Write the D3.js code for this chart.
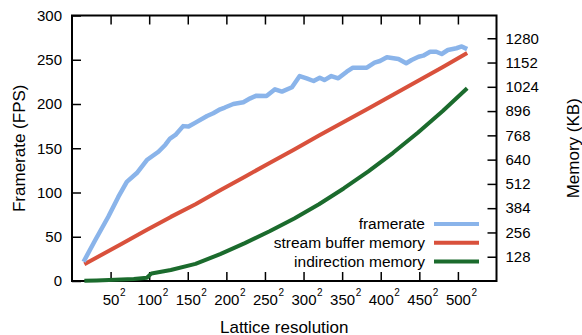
<!DOCTYPE html>
<html>
<head>
<meta charset="utf-8">
<script src="https://cdn.jsdelivr.net/npm/d3@7"></script>
<style>
  body { margin: 0; background: #fff; }
  svg { display: block; font-family: "Liberation Sans", Arial, sans-serif; }
  .tick line { stroke: #000; stroke-width: 1.5; }
  .domain { display: none; }
</style>
</head>
<body>
<svg id="svg" width="582" height="335"></svg>
<script>
// framerate (resolution, FPS)
let fpsRes = [15, 30, 47, 60, 71, 84, 97, 112, 121, 127, 134, 144, 151, 160, 175, 183, 192, 198, 209, 222,
              231, 239, 252, 263, 272, 285, 295, 304, 313, 321, 327, 336, 345, 356, 364, 382, 392, 399, 408,
              423, 433, 440, 449, 455, 464, 472, 479, 487, 498, 505, 512];
let fpsVal = [21.8, 46, 72.6, 95, 112, 122, 136.7, 146, 154, 161, 165, 175, 174.5, 179, 186.4, 189.5, 194, 196, 200, 202,
              206.4, 209.4, 209, 216.6, 214, 219, 231.6, 229, 226, 229.7, 227, 231.6, 229, 236.5, 241, 241, 246.7, 248.6, 252.8,
              250.8, 246, 249.7, 253.4, 254.6, 259, 259, 256.5, 261, 263, 265, 262];

// stream buffer memory (KB)
let streamRes = [16, 32, 64, 96, 128, 160, 192, 224, 256, 288, 320, 352, 384, 416, 448, 480, 512];
let streamVal = [88, 124, 195, 267, 338, 405, 478, 550, 622, 694, 767, 838, 910, 982, 1054, 1127, 1202];

// indirection memory (KB)
let indirRes = [16, 32, 48, 64, 80, 97, 103, 128, 160, 192, 224, 256, 288, 320, 352, 384, 416, 448, 480, 512];
let indirVal = [1, 3, 5, 8, 11, 17, 40, 58, 90, 142, 200, 262, 330, 405, 488, 578, 676, 782, 895, 1016];

let xTicks = [50, 100, 150, 200, 250, 300, 350, 400, 450, 500];
let fpsTicks = [0, 50, 100, 150, 200, 250, 300];
let memTicks = [128, 256, 384, 512, 640, 768, 896, 1024, 1152, 1280];

let seriesNames = ["framerate", "stream buffer memory", "indirection memory"];
let seriesColors = ["#8ab4ea", "#d9513c", "#1b6b2d"];

let svg = d3.select("#svg");

const plotLeft = 72, plotRight = 496.5, plotTop = 15.5, plotBottom = 281;

let xScale = d3.scaleLinear().domain([0, 550]).range([plotLeft, plotRight]);
let yFps = d3.scaleLinear().domain([0, 300]).range([plotBottom, plotTop]);
let yMem = d3.scaleLinear().domain([0, 1400]).range([plotBottom, plotTop]);

// axes, ticks pointing inward
let xAxis = svg.append("g")
    .attr("transform", `translate(0,${plotBottom})`)
    .call(d3.axisBottom(xScale).tickValues(xTicks).tickSizeInner(-9).tickSizeOuter(0).tickFormat(""));

// number centred on the tick, small "2" hanging to the right
xAxis.selectAll(".tick").each(function(d) {
    let g = d3.select(this);
    g.select("text").remove();
    let label = g.append("text")
        .attr("y", 23.5)
        .attr("text-anchor", "start")
        .attr("font-size", 15)
        .attr("fill", "#000");
    let num = label.append("tspan").text(d);
    let w = num.node().getComputedTextLength();
    label.attr("x", -w / 2);
    label.append("tspan")
        .attr("dx", 0.5)
        .attr("dy", -9)
        .attr("font-size", 10)
        .text("2");
});

svg.append("g")
    .attr("transform", `translate(0,${plotTop})`)
    .call(d3.axisTop(xScale).tickValues(xTicks).tickSizeInner(-9).tickSizeOuter(0).tickFormat(""));

svg.append("g")
    .attr("transform", `translate(${plotLeft},0)`)
    .call(d3.axisLeft(yFps).tickValues(fpsTicks).tickSizeInner(-9).tickSizeOuter(0).tickPadding(10))
    .selectAll(".tick text")
    .attr("font-size", 15)
    .attr("fill", "#000");

svg.append("g")
    .attr("transform", `translate(${plotRight},0)`)
    .call(d3.axisRight(yMem).tickValues(memTicks).tickSizeInner(-9).tickSizeOuter(0).tickPadding(9).tickFormat(d3.format("d")))
    .selectAll(".tick text")
    .attr("font-size", 15)
    .attr("fill", "#000");

svg.selectAll(".tick text").attr("font-family", "Liberation Sans, Arial, sans-serif");

// frame
svg.append("rect")
    .attr("x", plotLeft)
    .attr("y", plotTop)
    .attr("width", plotRight - plotLeft)
    .attr("height", plotBottom - plotTop)
    .attr("fill", "none")
    .attr("stroke", "#000")
    .attr("stroke-width", 2);

// lines
let fpsLine = d3.line().x((d, i) => xScale(fpsRes[i])).y(d => yFps(d));
let streamLine = d3.line().x((d, i) => xScale(streamRes[i])).y(d => yMem(d));
let indirLine = d3.line().x((d, i) => xScale(indirRes[i])).y(d => yMem(d));

svg.append("path").datum(indirVal)
    .attr("d", indirLine)
    .attr("fill", "none")
    .attr("stroke", seriesColors[2])
    .attr("stroke-width", 4)
    .attr("stroke-linejoin", "round");

svg.append("path").datum(streamVal)
    .attr("d", streamLine)
    .attr("fill", "none")
    .attr("stroke", seriesColors[1])
    .attr("stroke-width", 4)
    .attr("stroke-linejoin", "round");

svg.append("path").datum(fpsVal)
    .attr("d", fpsLine)
    .attr("fill", "none")
    .attr("stroke", seriesColors[0])
    .attr("stroke-width", 4.5)
    .attr("stroke-linejoin", "round");

// legend
let legend = svg.append("g");
seriesNames.forEach((name, i) => {
    let y = 224 + i * 18.8;
    legend.append("text")
        .attr("x", 425)
        .attr("y", y)
        .attr("dy", "0.35em")
        .attr("text-anchor", "end")
        .attr("font-size", 15.5)
        .text(name);
    legend.append("line")
        .attr("x1", 434)
        .attr("x2", 479)
        .attr("y1", y)
        .attr("y2", y)
        .attr("stroke", seriesColors[i])
        .attr("stroke-width", 4);
});

// axis titles
svg.append("text")
    .attr("x", (plotLeft + plotRight) / 2)
    .attr("y", 332.5)
    .attr("text-anchor", "middle")
    .attr("font-size", 17)
    .text("Lattice resolution");

svg.append("text")
    .attr("transform", `translate(25,${(plotTop + plotBottom) / 2}) rotate(-90)`)
    .attr("text-anchor", "middle")
    .attr("font-size", 17)
    .text("Framerate (FPS)");

svg.append("text")
    .attr("transform", `translate(579,${(plotTop + plotBottom) / 2}) rotate(-90)`)
    .attr("text-anchor", "middle")
    .attr("font-size", 17)
    .text("Memory (KB)");
</script>
</body>
</html>
